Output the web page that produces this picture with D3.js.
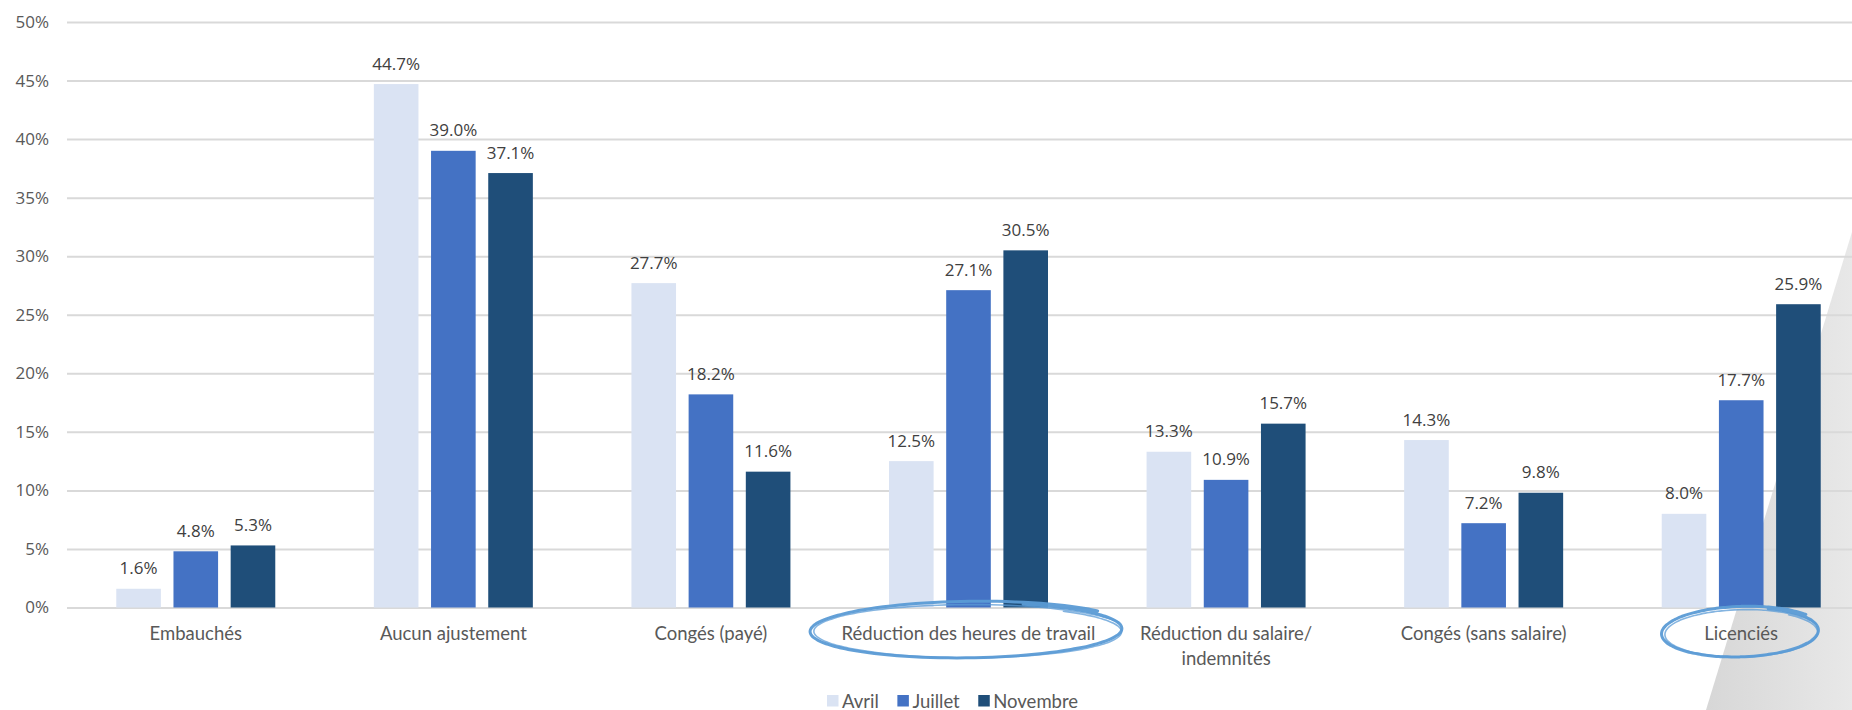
<!DOCTYPE html>
<html>
<head>
<meta charset="utf-8">
<script src="https://cdn.jsdelivr.net/npm/d3@7"></script>
<style>
  html, body { margin: 0; padding: 0; background: #ffffff; overflow: hidden; }
  svg { display: block; }
</style>
</head>
<body>
<svg id="chart" width="1852" height="710"></svg>
<script>
// ---- data ----
const categories = [
  "Embauchés",
  "Aucun ajustement",
  "Congés (payé)",
  "Réduction des heures de travail",
  "Réduction du salaire/ indemnités",
  "Congés (sans salaire)",
  "Licenciés"
];
const seriesNames = ["Avril", "Juillet", "Novembre"];
const avril    = [1.6, 44.7, 27.7, 12.5, 13.3, 14.3, 8.0];
const juillet  = [4.8, 39.0, 18.2, 27.1, 10.9, 7.2, 17.7];
const novembre = [5.3, 37.1, 11.6, 30.5, 15.7, 9.8, 25.9];
const yTicks = [0, 5, 10, 15, 20, 25, 30, 35, 40, 45, 50];
const highlighted = ["Réduction des heures de travail", "Licenciés"];

// ---- setup ----
const W = 1852, H = 710;
const svg = d3.select("#chart");
const colors = d3.scaleOrdinal().domain(seriesNames).range(["#DAE3F3", "#4472C4", "#1F4E79"]);
const seriesValues = { "Avril": avril, "Juillet": juillet, "Novembre": novembre };

const plotLeft = 67, plotRight = 1870, plotTop = 22, plotBottom = 607.5;

const x0 = d3.scaleBand().domain(categories).range([plotLeft, plotRight])
  .paddingInner(0.3827).paddingOuter(0.1913);
const x1 = d3.scaleBand().domain(seriesNames).range([0, x0.bandwidth()]).paddingInner(0.22);
const y = d3.scaleLinear().domain([0, 50]).range([plotBottom, plotTop]);

// ---- decorative gray shape (background, bottom right) ----
const defs = svg.append("defs");
const grad = defs.append("linearGradient").attr("id", "grayGrad")
  .attr("x1", "0%").attr("y1", "0%").attr("x2", "100%").attr("y2", "0%");
grad.append("stop").attr("offset", "0%").attr("stop-color", "#D7D7D7");
grad.append("stop").attr("offset", "100%").attr("stop-color", "#E8E8E8");
svg.append("path")
  .attr("d", `M${W},232 L${W},${H} L1706,${H} Z`)
  .attr("fill", "url(#grayGrad)");

// ---- gridlines ----
const yAxis = d3.axisLeft(y).tickValues(yTicks).tickFormat(d => d + "%")
  .tickSize(-(plotRight - plotLeft)).tickPadding(18);
const gAxis = svg.append("g").attr("transform", `translate(${plotLeft},0)`).call(yAxis);
gAxis.select(".domain").remove();
gAxis.selectAll(".tick line").attr("stroke", "#D9D9D9").attr("stroke-width", 2);
gAxis.selectAll(".tick text")
  .attr("fill", "#595959")
  .style("font-family", "'Open Sans', sans-serif")
  .style("font-size", "17px");

// ---- bars ----
const groups = svg.append("g").selectAll("g")
  .data(categories)
  .join("g")
  .attr("transform", d => `translate(${x0(d)},0)`);

groups.selectAll("rect")
  .data((d, i) => seriesNames.map(s => ({ s, v: seriesValues[s][i] })))
  .join("rect")
  .attr("x", d => x1(d.s))
  .attr("y", d => y(d.v))
  .attr("width", x1.bandwidth())
  .attr("height", d => y(0) - y(d.v))
  .attr("fill", d => colors(d.s));

groups.selectAll("text.val")
  .data((d, i) => seriesNames.map(s => ({ s, v: seriesValues[s][i] })))
  .join("text")
  .attr("class", "val")
  .attr("x", d => x1(d.s) + x1.bandwidth() / 2)
  .attr("y", d => y(d.v) - 14.5)
  .attr("text-anchor", "middle")
  .attr("fill", "#404040")
  .style("font-family", "'Open Sans', sans-serif")
  .style("font-size", "17px")
  .text(d => d.v.toFixed(1) + "%");

// ---- category labels ----
const catG = svg.append("g");
categories.forEach(c => {
  const cx = x0(c) + x0.bandwidth() / 2;
  const lines = c.includes("/ ") ? [c.split("/ ")[0] + "/", c.split("/ ")[1]] : [c];
  const t = catG.append("text")
    .attr("x", cx).attr("y", 640)
    .attr("text-anchor", "middle")
    .attr("fill", "#595959")
    .style("font-family", "Lato, sans-serif")
    .style("font-size", "18.5px");
  lines.forEach((ln, k) => {
    t.append("tspan").attr("x", cx).attr("dy", k === 0 ? 0 : 25).text(ln);
  });
});

// ---- hand-drawn highlight loops ----
function loopPath(cx, cy, rx, ry, rot, grow, start) {
  const pts = [];
  const n = 120;
  const total = Math.PI * 2 + 0.55;
  for (let k = 0; k <= n; k++) {
    const t = start + total * k / n;
    const f = 1 + grow * (k / n - 0.5);
    const px = rx * f * Math.cos(t);
    const py = ry * f * Math.sin(t);
    const xr = px * Math.cos(rot) - py * Math.sin(rot);
    const yr = px * Math.sin(rot) + py * Math.cos(rot);
    pts.push([cx + xr, cy + yr]);
  }
  return d3.line().curve(d3.curveBasis)(pts);
}
const loopSpecs = {
  "Réduction des heures de travail": { rx: 157, ry: 28, dy: 630, rot: -0.012 },
  "Licenciés": { rx: 79, ry: 25, dy: 632, rot: -0.03 }
};
const hl = svg.append("g").attr("fill", "none").attr("stroke", "#5B9BD5").attr("stroke-linecap", "round");
highlighted.forEach(c => {
  const s = loopSpecs[c];
  const cx = x0(c) + x0.bandwidth() / 2;
  hl.append("path").attr("d", loopPath(cx, s.dy, s.rx, s.ry, s.rot, 0.07, -1.2))
    .attr("stroke-width", 3).attr("opacity", 0.95);
  hl.append("path").attr("d", loopPath(cx + 1, s.dy + 1.5, s.rx - 2, s.ry - 1.5, s.rot + 0.012, 0.05, -0.9))
    .attr("stroke-width", 1.6).attr("opacity", 0.75);
});

// ---- legend ----
const legend = svg.append("g");
let lx = 827;
seriesNames.forEach(s => {
  legend.append("rect").attr("x", lx).attr("y", 695).attr("width", 11.5).attr("height", 11.5)
    .attr("fill", colors(s));
  const t = legend.append("text").attr("x", lx + 15).attr("y", 707.5)
    .attr("fill", "#595959")
    .style("font-family", "Lato, sans-serif")
    .style("font-size", "18.5px")
    .text(s);
  lx += 15 + t.node().getComputedTextLength() + 18.5;
});
</script>
</body>
</html>
